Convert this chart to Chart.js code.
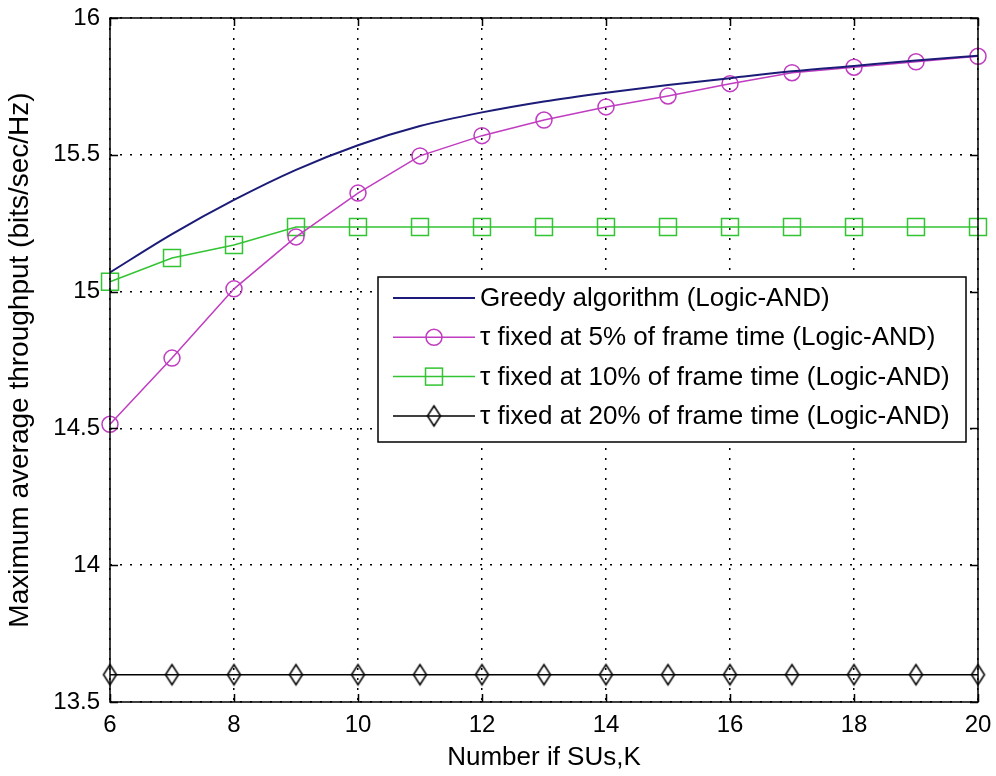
<!DOCTYPE html>
<html>
<head>
<meta charset="utf-8">
<script src="https://cdn.jsdelivr.net/npm/chart.js@4.4.0/dist/chart.umd.min.js"></script>
<style>
  body { margin: 0; background: #fff; }
</style>
</head>
<body>
<canvas id="throughput-chart" width="996" height="776"></canvas>
<script>
// Number of SUs (K)
const kValues = [6, 7, 8, 9, 10, 11, 12, 13, 14, 15, 16, 17, 18, 19, 20];

const greedyValues = [15.07, 15.21, 15.335, 15.445, 15.535, 15.605, 15.655, 15.695, 15.727, 15.755, 15.78, 15.805, 15.825, 15.845, 15.862];
const tau5Values = [14.515, 14.757, 15.01, 15.2, 15.36, 15.496, 15.57, 15.627, 15.675, 15.715, 15.76, 15.8, 15.82, 15.84, 15.86];
const tau10Values = [15.036, 15.123, 15.17, 15.236, 15.236, 15.236, 15.236, 15.236, 15.236, 15.236, 15.236, 15.236, 15.236, 15.236, 15.236];
const tau20Values = [13.6, 13.6, 13.6, 13.6, 13.6, 13.6, 13.6, 13.6, 13.6, 13.6, 13.6, 13.6, 13.6, 13.6, 13.6];

const seriesLabels = [
  "Greedy algorithm (Logic-AND)",
  "\u03c4 fixed at 5% of frame time (Logic-AND)",
  "\u03c4 fixed at 10% of frame time (Logic-AND)",
  "\u03c4 fixed at 20% of frame time (Logic-AND)",
];

const xTicks = [6, 8, 10, 12, 14, 16, 18, 20];
const yTicks = [13.5, 14, 14.5, 15, 15.5, 16];

const fontFamily = "'Liberation Sans', Arial, sans-serif";

// matlab style hollow diamond (taller than wide)
function makeDiamond(w, h, color) {
  const c = document.createElement("canvas");
  c.width = w + 4;
  c.height = h + 4;
  const g = c.getContext("2d");
  g.strokeStyle = color;
  g.lineWidth = 1.5;
  g.beginPath();
  g.moveTo(c.width / 2, 2);
  g.lineTo(c.width - 2, c.height / 2);
  g.lineTo(c.width / 2, c.height - 2);
  g.lineTo(2, c.height / 2);
  g.closePath();
  g.stroke();
  return c;
}
const diamond = makeDiamond(13, 20, "#000");

function toPoints(values) {
  return values.map((v, i) => ({ x: kValues[i], y: v }));
}

const matlabAxes = {
  id: "matlabAxes",
  afterDatasetsDraw(chart) {
    const { ctx, chartArea: a, scales } = chart;
    ctx.save();
    ctx.strokeStyle = "#000";
    ctx.lineWidth = 1.5;
    ctx.strokeRect(a.left, a.top, a.right - a.left, a.bottom - a.top);
    ctx.beginPath();
    xTicks.forEach((t) => {
      const px = Math.round(scales.x.getPixelForValue(t)) + 0.5;
      ctx.moveTo(px, a.bottom);
      ctx.lineTo(px, a.bottom - 8);
      ctx.moveTo(px, a.top);
      ctx.lineTo(px, a.top + 8);
    });
    yTicks.forEach((t) => {
      const py = Math.round(scales.y.getPixelForValue(t)) + 0.5;
      ctx.moveTo(a.left, py);
      ctx.lineTo(a.left + 8, py);
      ctx.moveTo(a.right, py);
      ctx.lineTo(a.right - 8, py);
    });
    ctx.stroke();
    ctx.restore();
  },
};

const boxLegend = {
  id: "boxLegend",
  afterDraw(chart) {
    const ctx = chart.ctx;
    const a = chart.chartArea;
    const right = a.right - 12;
    const left = 378;
    const top = 277;
    const height = 165;
    ctx.save();
    ctx.fillStyle = "#fff";
    ctx.fillRect(left, top, right - left, height);
    ctx.strokeStyle = "#000";
    ctx.lineWidth = 1.5;
    ctx.strokeRect(left, top, right - left, height);
    ctx.font = "26px " + fontFamily;
    ctx.textBaseline = "middle";
    chart.data.datasets.forEach((ds, i) => {
      const y = top + 21 + i * 39.3;
      ctx.strokeStyle = ds.borderColor;
      ctx.lineWidth = ds.borderWidth;
      ctx.beginPath();
      ctx.moveTo(left + 15, y);
      ctx.lineTo(left + 97, y);
      ctx.stroke();
      const mx = left + 56;
      ctx.lineWidth = 1.5;
      if (ds.pointStyle === "circle" && ds.pointRadius > 0) {
        ctx.beginPath();
        ctx.arc(mx, y, ds.pointRadius, 0, Math.PI * 2);
        ctx.stroke();
      } else if (ds.pointStyle === "rect") {
        const s = ds.pointRadius * Math.SQRT1_2;
        ctx.strokeRect(mx - s, y - s, 2 * s, 2 * s);
      } else if (ds.pointStyle instanceof HTMLCanvasElement) {
        ctx.drawImage(ds.pointStyle, mx - ds.pointStyle.width / 2, y - ds.pointStyle.height / 2);
      }
      ctx.fillStyle = "#000";
      ctx.fillText(ds.label, left + 102, y + 1);
    });
    ctx.restore();
  },
};

const ctx = document.getElementById("throughput-chart");

new Chart(ctx, {
  type: "line",
  data: {
    datasets: [
      {
        label: seriesLabels[0],
        data: toPoints(greedyValues),
        borderColor: "#1c1c78",
        borderWidth: 2,
        pointRadius: 0,
        pointStyle: "circle",
        cubicInterpolationMode: "monotone",
      },
      {
        label: seriesLabels[1],
        data: toPoints(tau5Values),
        borderColor: "#c03cc0",
        borderWidth: 1.5,
        pointStyle: "circle",
        pointRadius: 8,
        pointBorderWidth: 1.5,
        pointBackgroundColor: "rgba(0,0,0,0)",
        clip: false,
      },
      {
        label: seriesLabels[2],
        data: toPoints(tau10Values),
        borderColor: "#33c433",
        borderWidth: 1.5,
        pointStyle: "rect",
        pointRadius: 12,
        pointBorderWidth: 1.5,
        pointBackgroundColor: "rgba(0,0,0,0)",
        clip: false,
      },
      {
        label: seriesLabels[3],
        data: toPoints(tau20Values),
        borderColor: "#000",
        borderWidth: 1.5,
        pointStyle: diamond,
        pointRadius: 10,
        clip: false,
      },
    ],
  },
  options: {
    responsive: false,
    animation: false,
    layout: { padding: { top: 18, right: 18, left: 0, bottom: 0 } },
    plugins: {
      legend: { display: false },
      tooltip: { enabled: false },
    },
    scales: {
      x: {
        type: "linear",
        min: 6,
        max: 20,
        afterFit: (scale) => {
          scale.height = 74;
          scale.paddingLeft = 0;
          scale.paddingRight = 0;
        },
        afterBuildTicks: (scale) => { scale.ticks = xTicks.map((v) => ({ value: v })); },
        ticks: {
          color: "#000",
          font: { family: fontFamily, size: 24 },
          padding: 9,
          maxRotation: 0,
        },
        grid: { color: "#000", lineWidth: 1.5, drawTicks: false },
        border: { display: false, dash: [2, 8] },
        title: {
          display: true,
          text: "Number if SUs,K",
          color: "#000",
          font: { family: fontFamily, size: 26 },
          padding: { top: 0, bottom: 3 },
        },
      },
      y: {
        min: 13.5,
        max: 16,
        afterFit: (scale) => {
          scale.width = 110;
          scale.paddingTop = 0;
          scale.paddingBottom = 0;
        },
        afterBuildTicks: (scale) => { scale.ticks = yTicks.map((v) => ({ value: v })); },
        ticks: {
          color: "#000",
          font: { family: fontFamily, size: 24 },
          padding: 10,
          callback: (v) => String(v),
        },
        grid: { color: "#000", lineWidth: 1.5, drawTicks: false },
        border: { display: false, dash: [2, 8] },
        title: {
          display: true,
          text: "Maximum average throughput (bits/sec/Hz)",
          color: "#000",
          font: { family: fontFamily, size: 28 },
          padding: { top: 3, bottom: 0 },
        },
      },
    },
  },
  plugins: [matlabAxes, boxLegend],
});
</script>
</body>
</html>
